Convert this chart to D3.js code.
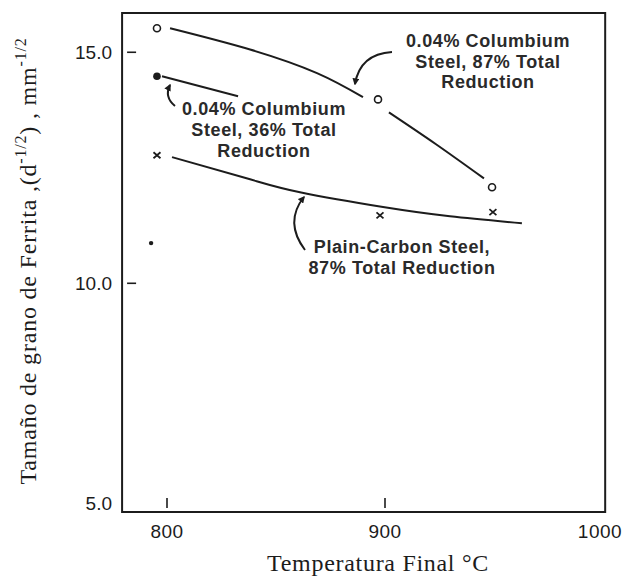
<!DOCTYPE html>
<html>
<head>
<meta charset="utf-8">
<script src="https://cdn.jsdelivr.net/npm/d3@7"></script>
<style>
  html, body { margin: 0; padding: 0; background: #fff; }
  svg { display: block; }
</style>
</head>
<body>
<svg id="chart" width="628" height="576"></svg>
<script>
// ---------------- DATA ----------------
// 0.04% Columbium steel, 87% total reduction (open circles)
const cb87Temp = [795.4, 896.8, 949.1];
const cb87Size = [15.52, 13.98, 12.08];
// fitted curve (drawn in two pieces, broken at the middle point)
const cb87CurveA = [[801.4, 15.52], [838.1, 15.06], [868.8, 14.55], [889.9, 14.03]];
const cb87CurveB = [[901.8, 13.70], [923.4, 13.01], [945.4, 12.27]];

// 0.04% Columbium steel, 36% total reduction (filled dots)
const cb36Temp = [795.4, 792.7];
const cb36Size = [14.48, 10.87];
const cb36Curve = [[797.7, 14.48], [832.6, 14.05]];

// Plain-carbon steel, 87% total reduction (x marks)
const pcTemp = [795.4, 897.7, 949.5];
const pcSize = [12.77, 11.47, 11.54];
const pcCurve = [[802.3, 12.73], [838.1, 12.25], [861.0, 11.97], [899.1, 11.65], [929.8, 11.45], [962.8, 11.30]];

// axis ticks
const xTicks = [800, 900, 1000];
const xTickLabels = ["800", "900", "1000"];
const yTicks = [15, 10, 5];
const yTickLabels = ["15.0", "10.0", "5.0"];

// annotation texts
const noteCb87 = ["0.04% Columbium", "Steel, 87% Total", "Reduction"];
const noteCb36 = ["0.04% Columbium", "Steel, 36% Total", "Reduction"];
const notePc = ["Plain-Carbon Steel,", "87% Total Reduction"];

const xTitle = "Temperatura Final °C";

// ---------------- LAYOUT ----------------
const INK = "#1c1c1c";
const svg = d3.select("#chart");
const x = d3.scaleLinear().domain([800, 1000]).range([167, 603]);
const y = d3.scaleLinear().domain([5.05, 15.85]).range([512, 13]);
const xLo = 779.4, xHi = 1001, yLo = 5.05, yHi = 15.85;

// frame
svg.append("rect")
  .attr("x", x(xLo)).attr("y", y(yHi))
  .attr("width", x(xHi) - x(xLo)).attr("height", y(yLo) - y(yHi))
  .attr("fill", "none").attr("stroke", INK).attr("stroke-width", 2);

// inward ticks
const sans = "'Liberation Sans', Arial, sans-serif";
xTicks.forEach((t, i) => {
  if (t < xHi - 1) {
    svg.append("line")
      .attr("x1", x(t)).attr("x2", x(t))
      .attr("y1", y(yLo) - 4).attr("y2", y(yLo) - 14)
      .attr("stroke", INK).attr("stroke-width", 1.6);
  }
  svg.append("text")
    .attr("x", x(t) - (t === 1000 ? 3 : 0)).attr("y", 538)
    .attr("text-anchor", "middle")
    .attr("font-family", sans).attr("font-size", 19)
    .attr("letter-spacing", 0.5)
    .attr("fill", INK)
    .text(xTickLabels[i]);
});
yTicks.forEach((t, i) => {
  if (t > yLo + 0.1) {
    svg.append("line")
      .attr("x1", x(xLo) + 5).attr("x2", x(xLo) + 14)
      .attr("y1", y(t)).attr("y2", y(t))
      .attr("stroke", INK).attr("stroke-width", 1.6);
  }
  const ly = Math.min(y(t), y(yLo) - 9);
  svg.append("text")
    .attr("x", 112).attr("y", ly).attr("dy", "0.36em")
    .attr("text-anchor", "end")
    .attr("font-family", sans).attr("font-size", 19)
    .attr("fill", INK)
    .text(yTickLabels[i]);
});

// axis titles
const serif = "'Liberation Serif', 'Times New Roman', serif";
svg.append("text")
  .attr("x", 378).attr("y", 571)
  .attr("text-anchor", "middle")
  .attr("font-family", serif).attr("font-size", 24)
  .attr("letter-spacing", 0.7)
  .attr("fill", INK)
  .text(xTitle);

const yt = svg.append("text")
  .attr("transform", "translate(36,261) rotate(-90)")
  .attr("text-anchor", "middle")
  .attr("font-family", serif).attr("font-size", 24)
  .attr("letter-spacing", 0.8)
  .attr("fill", INK);
yt.append("tspan").text("Tamaño de grano de Ferrita ,(d");
yt.append("tspan").attr("font-size", 16).attr("dy", -10).text("-1/2");
yt.append("tspan").attr("dy", 10).text(") , mm");
yt.append("tspan").attr("font-size", 16).attr("dy", -10).text("-1/2");

// curves
const line = d3.line().x(d => x(d[0])).y(d => y(d[1])).curve(d3.curveNatural);
[cb87CurveA, cb87CurveB, cb36Curve, pcCurve].forEach(c => {
  svg.append("path").attr("d", line(c))
    .attr("fill", "none").attr("stroke", INK).attr("stroke-width", 2);
});

// markers
cb87Temp.forEach((t, i) => {
  svg.append("circle").attr("cx", x(t)).attr("cy", y(cb87Size[i])).attr("r", 3.5)
    .attr("fill", "#fff").attr("stroke", INK).attr("stroke-width", 1.6);
});
cb36Temp.forEach((t, i) => {
  svg.append("circle").attr("cx", x(t)).attr("cy", y(cb36Size[i])).attr("r", i === 0 ? 3.8 : 2.2)
    .attr("fill", INK);
});
pcTemp.forEach((t, i) => {
  const cx = x(t), cy = y(pcSize[i]);
  svg.append("path")
    .attr("d", `M${cx - 3.5},${cy - 3}L${cx + 3.5},${cy + 3}M${cx + 3.5},${cy - 3}L${cx - 3.5},${cy + 3}`)
    .attr("stroke", INK).attr("stroke-width", 1.8).attr("fill", "none");
});

// annotations
const noteFont = (sel) => sel.attr("font-family", sans).attr("font-size", 18)
  .attr("font-weight", "bold").attr("letter-spacing", 0.6)
  .attr("fill", "#2a2a2a").attr("text-anchor", "middle");
function note(lines, cx, baseY, gap) {
  lines.forEach((s, i) => {
    noteFont(svg.append("text")).attr("x", cx).attr("y", baseY + i * gap).text(s);
  });
}
note(noteCb87, 488, 47, 20.5);
note(noteCb36, 264, 115, 21);
note(notePc, 402, 253, 21);

// curved arrows
svg.append("defs").append("marker")
  .attr("id", "ah").attr("viewBox", "0 0 10 10").attr("refX", 8).attr("refY", 5)
  .attr("markerWidth", 7).attr("markerHeight", 7).attr("orient", "auto")
  .attr("markerUnits", "userSpaceOnUse")
  .append("path").attr("d", "M0,0L10,5L0,10z").attr("fill", INK);

const arrows = [
  "M392,52 Q360,54 355,84",
  "M175,106 Q164,97 170,85",
  "M305,250 Q284,222 304,197"
];
arrows.forEach(d => {
  svg.append("path").attr("d", d).attr("fill", "none")
    .attr("stroke", INK).attr("stroke-width", 2).attr("marker-end", "url(#ah)");
});
</script>
</body>
</html>
